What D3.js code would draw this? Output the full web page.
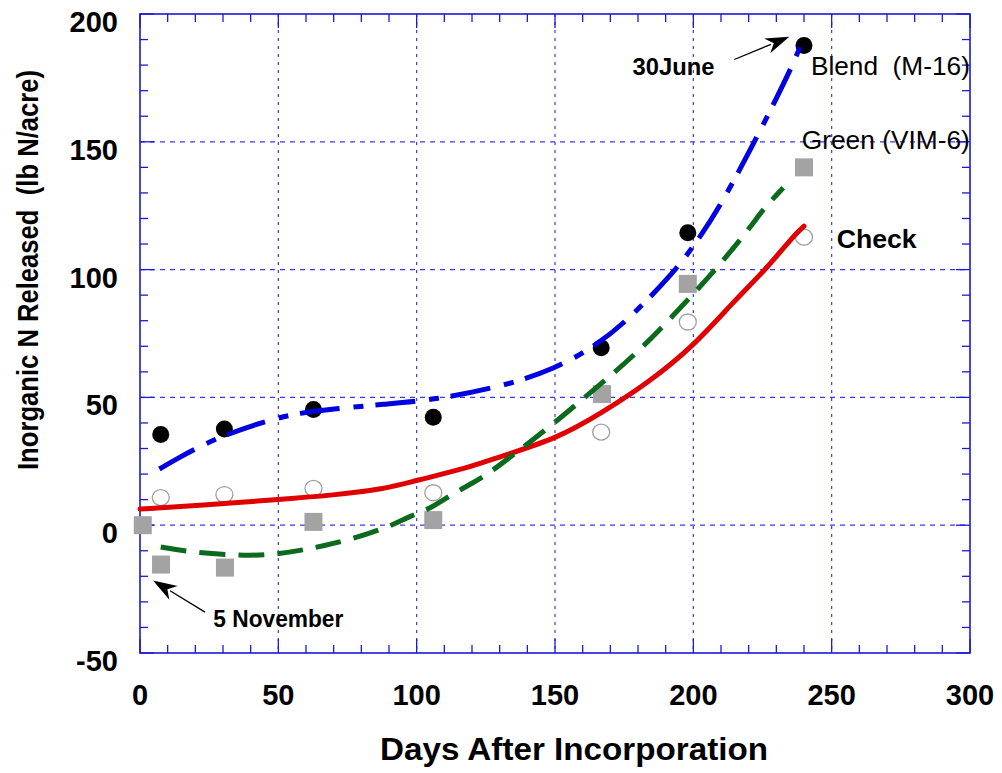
<!DOCTYPE html>
<html><head><meta charset="utf-8">
<script src="https://cdn.jsdelivr.net/npm/d3@7"></script>
<style>body{margin:0;background:#fff}svg{display:block;font-family:"Liberation Sans",Arial,sans-serif}text{white-space:pre}</style>
</head><body><svg id="c" width="1002" height="773"></svg>
<script>
// ---- data ----
const xTicks = [0, 50, 100, 150, 200, 250, 300];
const yTicks = [-50, 0, 50, 100, 150, 200];
const blendPts = [[7.5,35.5],[30.5,37.6],[62.7,45.3],[106,42.2],[166.7,69.4],[198,114.4],[240,187.7]];
const checkPts = [[7.5,10.8],[30.5,12],[62.7,14.4],[106,12.7],[166.7,36.4],[198,79.5],[240,112.7]];
const greenPts = [[1,0],[7.6,-15.4],[30.7,-16.6],[62.7,1.3],[106,2],[167,51.3],[198,94.4],[240,140]];
const blendFit = [[7,22],[15,27],[22,31],[30,35],[46,41],[58,44],[70,45.5],[88,47.3],[106,49],[130,54],[150,61],[166,71],[178,82],[193,99],[200,109],[210,125],[225,156],[236,180],[240,191]];
const checkFit = [[0,6.3],[22,7.8],[50,10],[70,11.8],[88,14],[100,17.6],[118,22.2],[130,26.8],[151,34],[167,44],[184,56],[200,70],[215,88],[227,101],[236,113],[240,117]];
const greenFit = [[7.5,-8.5],[17,-10.4],[34,-11.8],[47,-11.8],[60,-9.5],[66,-8.1],[76,-5.6],[90,-0.7],[97,3.3],[105,6.5],[111,11],[120,16.3],[127,21],[134,26.8],[149,39.2],[164,53],[179,66.6],[193,82.3],[207,98.6],[220,115.6],[225,123.4],[232.5,132]];
const labels = [
  {t:"30June", x:178, y:176.3, bold:true, size:23, len:82},
  {t:"Blend  (M-16)", x:242.5, y:176.3, bold:false, size:25, len:159},
  {t:"Green (VIM-6)", x:239.2, y:147, bold:false, size:25, len:168},
  {t:"Check", x:251.8, y:108.5, bold:true, size:25, len:80},
  {t:"5 November", x:26.5, y:-40, bold:true, size:23, len:130}
];
const arrows = [
  {from:[214.8,182.2], to:[234.7,191.1]},
  {from:[23.5,-34], to:[4.7,-21.6]}
];

// ---- layout ----
const L=140, R=970, T=14, B=653;
const svg = d3.select("#c");
const x = d3.scaleLinear().domain([0,300]).range([L,R]);
const y = d3.scaleLinear().domain([-50,200]).range([B,T]);
const blue="#1a1ad8";

// grid
const g = svg.append("g");
g.selectAll(".vg").data(xTicks.filter(d=>d>0&&d<300)).join("line")
  .attr("x1",d=>x(d)).attr("x2",d=>x(d)).attr("y1",T).attr("y2",B)
  .attr("stroke","#3a3ae6").attr("stroke-width",1.2).attr("stroke-dasharray","3,5");
g.selectAll(".hg").data(yTicks.filter(d=>d>-50&&d<200)).join("line")
  .attr("x1",L).attr("x2",R).attr("y1",d=>y(d)).attr("y2",d=>y(d))
  .attr("stroke","#3a3ae6").attr("stroke-width",1.2).attr("stroke-dasharray","5,5");

// axes with inward ticks
const minorX = d3.range(0,301,10), minorY = d3.range(-50,201,10);
const tk = svg.append("g").attr("stroke",blue).attr("stroke-width",1.3);
minorX.forEach(v=>{
  const len = v%50===0?14:8;
  tk.append("line").attr("x1",x(v)).attr("x2",x(v)).attr("y1",B).attr("y2",B-len);
  tk.append("line").attr("x1",x(v)).attr("x2",x(v)).attr("y1",T).attr("y2",T+len);
});
minorY.forEach(v=>{
  const len = v%50===0?14:8;
  tk.append("line").attr("y1",y(v)).attr("y2",y(v)).attr("x1",L).attr("x2",L+len);
  tk.append("line").attr("y1",y(v)).attr("y2",y(v)).attr("x1",R).attr("x2",R-len);
});
svg.append("rect").attr("x",L).attr("y",T).attr("width",R-L).attr("height",B-T)
  .attr("fill","none").attr("stroke",blue).attr("stroke-width",1.6);

// tick labels
svg.append("g").selectAll("text").data(xTicks).join("text")
  .attr("x",d=>x(d)).attr("y",B+52).attr("text-anchor","middle")
  .attr("font-size",29).attr("font-weight","bold").text(d=>d);
svg.append("g").selectAll("text").data(yTicks).join("text")
  .attr("x",118).attr("y",d=>y(d)+18).attr("text-anchor","end")
  .attr("font-size",29).attr("font-weight","bold").text(d=>d);

// axis titles
svg.append("text").attr("x",574).attr("y",760).attr("text-anchor","middle")
  .attr("font-size",31).attr("font-weight","bold")
  .attr("textLength",388).attr("lengthAdjust","spacingAndGlyphs")
  .text("Days After Incorporation");
svg.append("text").attr("transform","translate(38,270) rotate(-90)").attr("text-anchor","middle")
  .attr("font-size",29).attr("font-weight","bold")
  .attr("textLength",400).attr("lengthAdjust","spacingAndGlyphs")
  .text("Inorganic N Released  (lb N/acre)");

// markers
svg.append("g").selectAll("rect").data(greenPts).join("rect")
  .attr("x",d=>x(d[0])-9).attr("y",d=>y(d[1])-9).attr("width",18).attr("height",18)
  .attr("fill","#a3a3a3");
svg.append("g").selectAll("ellipse").data(checkPts).join("ellipse")
  .attr("cx",d=>x(d[0])).attr("cy",d=>y(d[1])).attr("rx",8.5).attr("ry",8)
  .attr("fill","#fff").attr("stroke","#a0a0a0").attr("stroke-width",1.3);
svg.append("g").selectAll("circle").data(blendPts).join("circle")
  .attr("cx",d=>x(d[0])).attr("cy",d=>y(d[1])).attr("r",8.5).attr("fill","#000");

// fitted curves
const line = d3.line().x(d=>x(d[0])).y(d=>y(d[1])).curve(d3.curveBasis);
svg.append("path").datum(checkFit).attr("d",line).attr("fill","none")
  .attr("stroke","#e00000").attr("stroke-width",5).attr("stroke-linecap","round");
svg.append("path").datum(greenFit).attr("d",line).attr("fill","none")
  .attr("stroke","#0b6a1c").attr("stroke-width",5).attr("stroke-dasharray","26,13");
svg.append("path").datum(blendFit).attr("d",line).attr("fill","none")
  .attr("stroke","#0000e0").attr("stroke-width",5).attr("stroke-dasharray","40,14,10,12");

// labels
svg.append("g").selectAll("text").data(labels).join("text")
  .attr("x",d=>x(d.x)).attr("y",d=>y(d.y))
  .attr("font-size",d=>d.size).attr("font-weight",d=>d.bold?"bold":"normal")
  .attr("textLength",d=>d.len).attr("lengthAdjust","spacingAndGlyphs")
  .text(d=>d.t);

// arrows
arrows.forEach(a=>{
  const x0=x(a.from[0]), y0=y(a.from[1]), x1=x(a.to[0]), y1=y(a.to[1]);
  const ang=Math.atan2(y1-y0,x1-x0), hl=24, hw=8;
  const bx=x1-hl*Math.cos(ang), by=y1-hl*Math.sin(ang);
  svg.append("line").attr("x1",x0).attr("y1",y0).attr("x2",bx+4*Math.cos(ang)).attr("y2",by+4*Math.sin(ang))
    .attr("stroke","#000").attr("stroke-width",1.3);
  const px=-Math.sin(ang), py=Math.cos(ang);
  svg.append("path").attr("d",`M${x1},${y1}L${bx+hw*px},${by+hw*py}L${bx+hl*0.3*Math.cos(ang)},${by+hl*0.3*Math.sin(ang)}L${bx-hw*px},${by-hw*py}Z`)
    .attr("fill","#000");
});
</script></body></html>
